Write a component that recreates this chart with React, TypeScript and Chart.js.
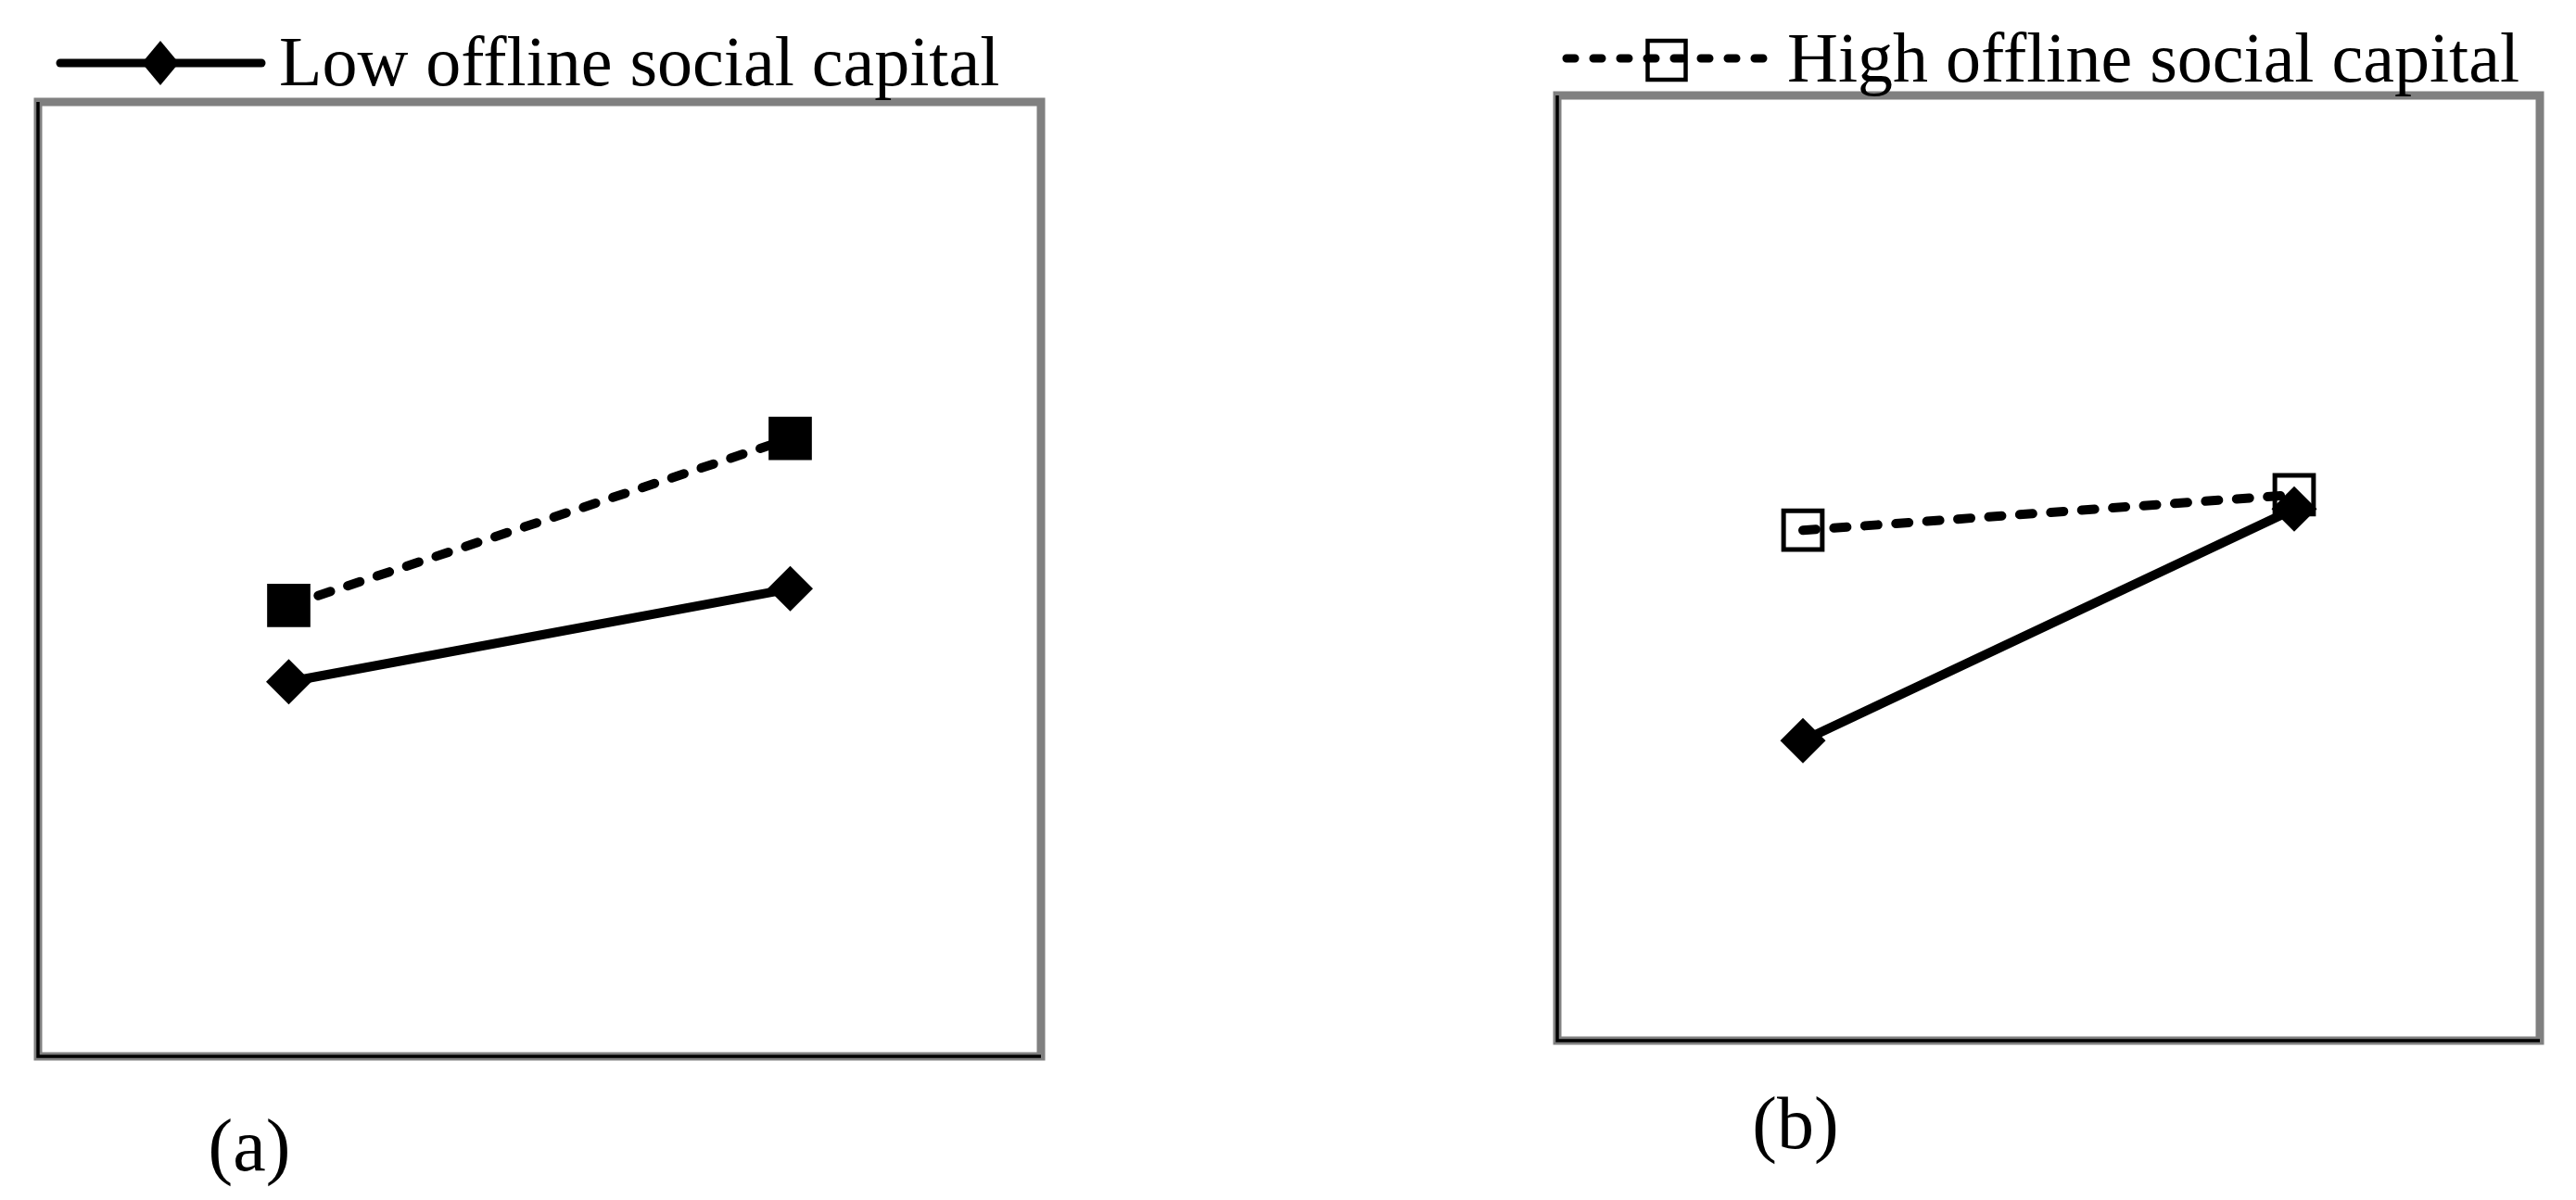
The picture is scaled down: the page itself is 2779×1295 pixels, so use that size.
import React, { useEffect, useRef } from "react";
import { Chart, registerables } from "chart.js";

Chart.register(...registerables);

// ---- data (values on a hidden 1–5 scale) ----
const categories = ["Low", "High"];
const panelALow = [2.57, 2.96];
const panelAHigh = [2.89, 3.59];
const panelBLow = [2.27, 3.25];
const panelBHigh = [3.16, 3.31];
const seriesNames = ["Low offline social capital", "High offline social capital"];
const panelLabels = ["(a)", "(b)"];
const yRange = [1, 5];

const FONT = '"Liberation Serif", "Times New Roman", serif';

type Decor = {
  legendKind: "diamond" | "square";
  legendText: string;
  lineX1: number;
  lineX2: number;
  lineY: number;
  markerX: number;
  markerY: number;
  textX: number;
  textY: number;
  label: string;
  labelX: number;
  labelY: number;
};

function makeDecorPlugin(d: Decor) {
  return {
    id: "decor",
    beforeDatasetsDraw(chart: any) {
      const { ctx, chartArea: a } = chart;
      ctx.save();
      ctx.strokeStyle = "#808080";
      ctx.lineWidth = 9;
      ctx.lineJoin = "miter";
      ctx.strokeRect(a.left, a.top, a.right - a.left, a.bottom - a.top);
      ctx.strokeStyle = "#000000";
      ctx.lineWidth = 3.5;
      ctx.beginPath();
      ctx.moveTo(a.left, a.top);
      ctx.lineTo(a.left, a.bottom);
      ctx.lineTo(a.right, a.bottom);
      ctx.stroke();
      ctx.restore();
    },
    afterDraw(chart: any) {
      const ctx = chart.ctx;
      ctx.save();
      // legend line
      ctx.strokeStyle = "#000";
      ctx.lineWidth = 9;
      ctx.lineCap = "round";
      if (d.legendKind === "square") ctx.setLineDash([9, 20]);
      ctx.beginPath();
      ctx.moveTo(d.lineX1, d.lineY);
      ctx.lineTo(d.lineX2, d.lineY);
      ctx.stroke();
      ctx.setLineDash([]);
      // legend marker
      if (d.legendKind === "diamond") {
        ctx.fillStyle = "#000";
        ctx.beginPath();
        ctx.moveTo(d.markerX - 20, d.markerY);
        ctx.lineTo(d.markerX, d.markerY - 24);
        ctx.lineTo(d.markerX + 20, d.markerY);
        ctx.lineTo(d.markerX, d.markerY + 24);
        ctx.closePath();
        ctx.fill();
      } else {
        ctx.lineWidth = 4.5;
        ctx.lineCap = "butt";
        ctx.strokeRect(d.markerX - 20.5, d.markerY - 21, 41, 42);
      }
      // legend text
      ctx.fillStyle = "#000";
      ctx.font = `76px ${FONT}`;
      ctx.textAlign = "left";
      ctx.textBaseline = "alphabetic";
      ctx.fillText(d.legendText, d.textX, d.textY);
      // panel label
      ctx.font = `80px ${FONT}`;
      ctx.textAlign = "center";
      ctx.fillText(d.label, d.labelX, d.labelY);
      ctx.restore();
    },
  };
}

function makeConfig(
  low: number[],
  high: number[],
  filledSquare: boolean,
  padding: { left: number; right: number; top: number; bottom: number },
  decor: Decor
): any {
  return {
    type: "line",
    data: {
      labels: categories,
      datasets: [
        {
          label: seriesNames[0],
          data: low,
          borderColor: "#000",
          borderWidth: 10,
          tension: 0,
          fill: false,
          pointStyle: "rectRot",
          pointRadius: 24.5,
          pointBackgroundColor: "#000",
          pointBorderColor: "#000",
          pointBorderWidth: 0,
        },
        {
          label: seriesNames[1],
          data: high,
          borderColor: "#000",
          borderWidth: 10,
          borderDash: [14, 19.5],
          borderCapStyle: "round",
          tension: 0,
          fill: false,
          pointStyle: "rect",
          pointRadius: filledSquare ? 33 : 29.5,
          pointBackgroundColor: filledSquare ? "#000" : "rgba(0,0,0,0)",
          pointBorderColor: "#000",
          pointBorderWidth: filledSquare ? 0 : 5,
        },
      ],
    },
    options: {
      responsive: false,
      animation: false,
      devicePixelRatio: 1,
      layout: { padding },
      plugins: {
        legend: { display: false },
        tooltip: { enabled: false },
        title: { display: false },
      },
      events: [],
      scales: {
        x: { type: "category", offset: true, display: false },
        y: { type: "linear", min: yRange[0], max: yRange[1], display: false },
      },
    },
    plugins: [makeDecorPlugin(decor)],
  };
}

export default function App() {
  const refA = useRef<HTMLCanvasElement | null>(null);
  const refB = useRef<HTMLCanvasElement | null>(null);

  useEffect(() => {
    if (!refA.current || !refB.current) return;
    const chartA = new Chart(
      refA.current,
      makeConfig(
        panelALow,
        panelAHigh,
        true,
        { left: 41, right: 267, top: 110, bottom: 155 },
        {
          legendKind: "diamond",
          legendText: seriesNames[0],
          lineX1: 65,
          lineX2: 282,
          lineY: 68,
          markerX: 173,
          markerY: 68,
          textX: 301,
          textY: 92,
          label: panelLabels[0],
          labelX: 269,
          labelY: 1263,
        }
      )
    );
    const chartB = new Chart(
      refB.current,
      makeConfig(
        panelBLow,
        panelBHigh,
        false,
        { left: 290, right: 39, top: 103, bottom: 172 },
        {
          legendKind: "square",
          legendText: seriesNames[1],
          lineX1: 300,
          lineX2: 516,
          lineY: 63,
          markerX: 408,
          markerY: 65,
          textX: 538,
          textY: 88,
          label: panelLabels[1],
          labelX: 547,
          labelY: 1239,
        }
      )
    );
    return () => {
      chartA.destroy();
      chartB.destroy();
    };
  }, []);

  return (
    <div
      style={{
        position: "fixed",
        left: 0,
        top: 0,
        width: 2779,
        height: 1295,
        background: "#ffffff",
        overflow: "hidden",
      }}
    >
      <canvas
        ref={refA}
        width={1390}
        height={1295}
        style={{ position: "absolute", left: 0, top: 0, width: 1390, height: 1295 }}
      />
      <canvas
        ref={refB}
        width={1389}
        height={1295}
        style={{ position: "absolute", left: 1390, top: 0, width: 1389, height: 1295 }}
      />
    </div>
  );
}
